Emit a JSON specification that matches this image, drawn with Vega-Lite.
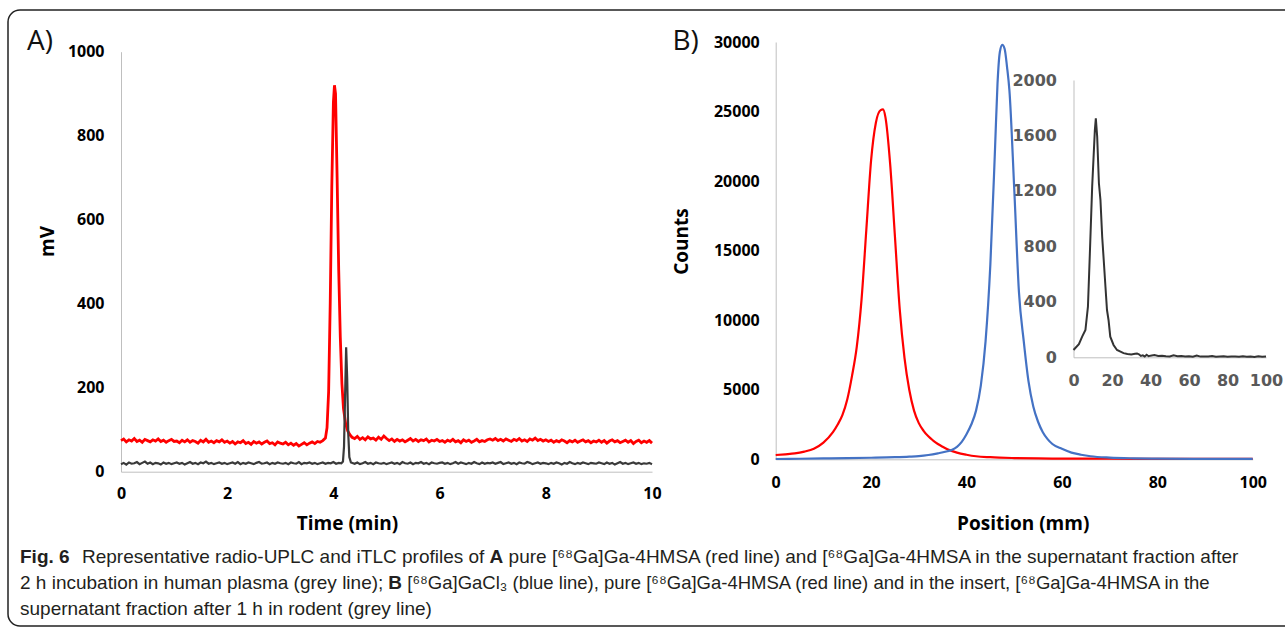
{
  "$schema": "https://vega.github.io/schema/vega-lite/v6.json",
  "width": 1285,
  "height": 628,
  "autosize": {"type": "none"},
  "padding": 0,
  "background": "white",
  "config": {
    "view": {"stroke": null},
    "axis": {
      "ticks": false, "tickSize": 0, "grid": false,
      "domainColor": "#bfbfbf", "domainWidth": 1,
      "labelFont": "Open Sans", "labelFontWeight": "bold", "labelFontSize": 16, "labelColor": "#000000",
      "labelFlush": false, "labelOverlap": false,
      "titleFont": "Open Sans", "titleFontWeight": "bold", "titleFontSize": 19, "titleColor": "#000000"
    }
  },
  "datasets": {
    "Ared": [
      {"x":0,"y":74},{"x":0.05,"y":78},{"x":0.1,"y":71},{"x":0.15,"y":76},{"x":0.2,"y":73},{"x":0.25,"y":79},{"x":0.3,"y":72},{"x":0.35,"y":75},{"x":0.4,"y":70},{"x":0.45,"y":77},{"x":0.5,"y":74},{"x":0.55,"y":71},{"x":0.6,"y":76},{"x":0.65,"y":73},{"x":0.7,"y":78},{"x":0.75,"y":72},{"x":0.8,"y":75},{"x":0.85,"y":70},{"x":0.9,"y":74},{"x":0.95,"y":77},{"x":1,"y":72},
      {"x":1.05,"y":73},{"x":1.1,"y":69},{"x":1.15,"y":75},{"x":1.2,"y":71},{"x":1.25,"y":76},{"x":1.3,"y":70},{"x":1.35,"y":74},{"x":1.4,"y":72},{"x":1.45,"y":68},{"x":1.5,"y":75},{"x":1.55,"y":71},{"x":1.6,"y":77},{"x":1.65,"y":70},{"x":1.7,"y":73},{"x":1.75,"y":69},{"x":1.8,"y":74},{"x":1.85,"y":71},{"x":1.9,"y":76},{"x":1.95,"y":70},{"x":2,"y":73},
      {"x":2.05,"y":68},{"x":2.1,"y":72},{"x":2.15,"y":66},{"x":2.2,"y":71},{"x":2.25,"y":69},{"x":2.3,"y":74},{"x":2.35,"y":67},{"x":2.4,"y":70},{"x":2.45,"y":65},{"x":2.5,"y":72},{"x":2.55,"y":68},{"x":2.6,"y":71},{"x":2.65,"y":66},{"x":2.7,"y":70},{"x":2.75,"y":73},{"x":2.8,"y":67},{"x":2.85,"y":69},{"x":2.9,"y":64},{"x":2.95,"y":71},{"x":3,"y":68},
      {"x":3.05,"y":66},{"x":3.1,"y":70},{"x":3.15,"y":64},{"x":3.2,"y":68},{"x":3.25,"y":63},{"x":3.3,"y":67},{"x":3.35,"y":61},{"x":3.4,"y":65},{"x":3.45,"y":69},{"x":3.5,"y":64},{"x":3.55,"y":68},{"x":3.6,"y":71},{"x":3.65,"y":67},{"x":3.7,"y":72},{"x":3.75,"y":70},{"x":3.8,"y":74},
      {"x":3.85,"y":80},{"x":3.88,"y":105},{"x":3.91,"y":190},{"x":3.94,"y":400},{"x":3.97,"y":680},{"x":4,"y":880},{"x":4.02,"y":920},{"x":4.04,"y":900},{"x":4.07,"y":700},{"x":4.1,"y":480},{"x":4.13,"y":320},{"x":4.16,"y":210},{"x":4.19,"y":150},{"x":4.23,"y":115},{"x":4.27,"y":97},{"x":4.31,"y":88},{"x":4.35,"y":82},
      {"x":4.4,"y":79},{"x":4.45,"y":84},{"x":4.5,"y":77},{"x":4.55,"y":81},{"x":4.6,"y":76},{"x":4.65,"y":83},{"x":4.7,"y":78},{"x":4.75,"y":80},{"x":4.8,"y":75},{"x":4.85,"y":82},{"x":4.9,"y":77},{"x":4.95,"y":85},{"x":5,"y":79},
      {"x":5.05,"y":74},{"x":5.1,"y":78},{"x":5.15,"y":72},{"x":5.2,"y":77},{"x":5.25,"y":73},{"x":5.3,"y":76},{"x":5.35,"y":71},{"x":5.4,"y":75},{"x":5.45,"y":79},{"x":5.5,"y":73},{"x":5.55,"y":77},{"x":5.6,"y":72},{"x":5.65,"y":76},{"x":5.7,"y":74},{"x":5.75,"y":78},{"x":5.8,"y":71},{"x":5.85,"y":75},{"x":5.9,"y":73},{"x":5.95,"y":77},{"x":6,"y":72},
      {"x":6.05,"y":74},{"x":6.1,"y":70},{"x":6.15,"y":75},{"x":6.2,"y":72},{"x":6.25,"y":77},{"x":6.3,"y":71},{"x":6.35,"y":74},{"x":6.4,"y":69},{"x":6.45,"y":76},{"x":6.5,"y":72},{"x":6.55,"y":75},{"x":6.6,"y":70},{"x":6.65,"y":73},{"x":6.7,"y":77},{"x":6.75,"y":71},{"x":6.8,"y":74},{"x":6.85,"y":72},{"x":6.9,"y":76},{"x":6.95,"y":78},{"x":7,"y":75},
      {"x":7.05,"y":79},{"x":7.1,"y":74},{"x":7.15,"y":77},{"x":7.2,"y":73},{"x":7.25,"y":78},{"x":7.3,"y":75},{"x":7.35,"y":72},{"x":7.4,"y":77},{"x":7.45,"y":74},{"x":7.5,"y":79},{"x":7.55,"y":73},{"x":7.6,"y":76},{"x":7.65,"y":72},{"x":7.7,"y":78},{"x":7.75,"y":75},{"x":7.8,"y":80},{"x":7.85,"y":74},{"x":7.9,"y":77},{"x":7.95,"y":73},{"x":8,"y":76},
      {"x":8.05,"y":72},{"x":8.1,"y":75},{"x":8.15,"y":70},{"x":8.2,"y":74},{"x":8.25,"y":71},{"x":8.3,"y":76},{"x":8.35,"y":73},{"x":8.4,"y":69},{"x":8.45,"y":74},{"x":8.5,"y":71},{"x":8.55,"y":75},{"x":8.6,"y":70},{"x":8.65,"y":73},{"x":8.7,"y":76},{"x":8.75,"y":71},{"x":8.8,"y":74},{"x":8.85,"y":69},{"x":8.9,"y":73},{"x":8.95,"y":71},{"x":9,"y":75},
      {"x":9.05,"y":70},{"x":9.1,"y":74},{"x":9.15,"y":68},{"x":9.2,"y":73},{"x":9.25,"y":76},{"x":9.3,"y":71},{"x":9.35,"y":74},{"x":9.4,"y":69},{"x":9.45,"y":72},{"x":9.5,"y":75},{"x":9.55,"y":70},{"x":9.6,"y":74},{"x":9.65,"y":67},{"x":9.7,"y":72},{"x":9.75,"y":75},{"x":9.8,"y":69},{"x":9.85,"y":73},{"x":9.9,"y":70},{"x":9.95,"y":74},{"x":10,"y":68}
    ],
    "Agrey": [
      {"x":0,"y":18},{"x":0.05,"y":21},{"x":0.1,"y":17},{"x":0.15,"y":22},{"x":0.2,"y":19},{"x":0.25,"y":20},{"x":0.3,"y":23},{"x":0.35,"y":18},{"x":0.4,"y":21},{"x":0.45,"y":24},{"x":0.5,"y":19},{"x":0.55,"y":22},{"x":0.6,"y":18},{"x":0.65,"y":21},{"x":0.7,"y":20},{"x":0.75,"y":17},{"x":0.8,"y":22},{"x":0.85,"y":19},{"x":0.9,"y":21},{"x":0.95,"y":18},{"x":1,"y":20},
      {"x":1.05,"y":22},{"x":1.1,"y":19},{"x":1.15,"y":21},{"x":1.2,"y":17},{"x":1.25,"y":20},{"x":1.3,"y":23},{"x":1.35,"y":19},{"x":1.4,"y":21},{"x":1.45,"y":18},{"x":1.5,"y":22},{"x":1.55,"y":20},{"x":1.6,"y":24},{"x":1.65,"y":19},{"x":1.7,"y":21},{"x":1.75,"y":18},{"x":1.8,"y":20},{"x":1.85,"y":22},{"x":1.9,"y":19},{"x":1.95,"y":21},{"x":2,"y":18},
      {"x":2.05,"y":20},{"x":2.1,"y":22},{"x":2.15,"y":19},{"x":2.2,"y":23},{"x":2.25,"y":18},{"x":2.3,"y":21},{"x":2.35,"y":19},{"x":2.4,"y":22},{"x":2.45,"y":20},{"x":2.5,"y":18},{"x":2.55,"y":21},{"x":2.6,"y":23},{"x":2.65,"y":19},{"x":2.7,"y":20},{"x":2.75,"y":22},{"x":2.8,"y":18},{"x":2.85,"y":21},{"x":2.9,"y":19},{"x":2.95,"y":22},{"x":3,"y":20},
      {"x":3.05,"y":19},{"x":3.1,"y":21},{"x":3.15,"y":18},{"x":3.2,"y":22},{"x":3.25,"y":20},{"x":3.3,"y":19},{"x":3.35,"y":23},{"x":3.4,"y":18},{"x":3.45,"y":21},{"x":3.5,"y":20},{"x":3.55,"y":22},{"x":3.6,"y":19},{"x":3.65,"y":21},{"x":3.7,"y":18},{"x":3.75,"y":20},{"x":3.8,"y":22},{"x":3.85,"y":19},{"x":3.9,"y":21},{"x":3.95,"y":20},{"x":4,"y":23},{"x":4.05,"y":19},{"x":4.1,"y":21},{"x":4.15,"y":20},
      {"x":4.18,"y":24},{"x":4.2,"y":60},{"x":4.22,"y":180},{"x":4.24,"y":296},{"x":4.26,"y":220},{"x":4.28,"y":90},{"x":4.3,"y":35},{"x":4.33,"y":22},
      {"x":4.4,"y":19},{"x":4.45,"y":22},{"x":4.5,"y":18},{"x":4.55,"y":20},{"x":4.6,"y":23},{"x":4.65,"y":19},{"x":4.7,"y":21},{"x":4.75,"y":18},{"x":4.8,"y":22},{"x":4.85,"y":20},{"x":4.9,"y":19},{"x":4.95,"y":21},{"x":5,"y":18},
      {"x":5.05,"y":20},{"x":5.1,"y":22},{"x":5.15,"y":19},{"x":5.2,"y":21},{"x":5.25,"y":18},{"x":5.3,"y":23},{"x":5.35,"y":20},{"x":5.4,"y":19},{"x":5.45,"y":22},{"x":5.5,"y":18},{"x":5.55,"y":21},{"x":5.6,"y":20},{"x":5.65,"y":23},{"x":5.7,"y":19},{"x":5.75,"y":21},{"x":5.8,"y":18},{"x":5.85,"y":22},{"x":5.9,"y":20},{"x":5.95,"y":19},{"x":6,"y":21},
      {"x":6.05,"y":22},{"x":6.1,"y":19},{"x":6.15,"y":21},{"x":6.2,"y":18},{"x":6.25,"y":20},{"x":6.3,"y":23},{"x":6.35,"y":19},{"x":6.4,"y":22},{"x":6.45,"y":20},{"x":6.5,"y":18},{"x":6.55,"y":21},{"x":6.6,"y":19},{"x":6.65,"y":23},{"x":6.7,"y":20},{"x":6.75,"y":18},{"x":6.8,"y":22},{"x":6.85,"y":19},{"x":6.9,"y":21},{"x":6.95,"y":20},{"x":7,"y":22},
      {"x":7.05,"y":19},{"x":7.1,"y":21},{"x":7.15,"y":23},{"x":7.2,"y":18},{"x":7.25,"y":20},{"x":7.3,"y":22},{"x":7.35,"y":19},{"x":7.4,"y":21},{"x":7.45,"y":18},{"x":7.5,"y":22},{"x":7.55,"y":20},{"x":7.6,"y":19},{"x":7.65,"y":23},{"x":7.7,"y":21},{"x":7.75,"y":18},{"x":7.8,"y":20},{"x":7.85,"y":22},{"x":7.9,"y":19},{"x":7.95,"y":21},{"x":8,"y":20},
      {"x":8.05,"y":18},{"x":8.1,"y":21},{"x":8.15,"y":19},{"x":8.2,"y":22},{"x":8.25,"y":20},{"x":8.3,"y":17},{"x":8.35,"y":21},{"x":8.4,"y":19},{"x":8.45,"y":23},{"x":8.5,"y":20},{"x":8.55,"y":18},{"x":8.6,"y":21},{"x":8.65,"y":19},{"x":8.7,"y":22},{"x":8.75,"y":20},{"x":8.8,"y":18},{"x":8.85,"y":21},{"x":8.9,"y":20},{"x":8.95,"y":19},{"x":9,"y":22},
      {"x":9.05,"y":20},{"x":9.1,"y":18},{"x":9.15,"y":22},{"x":9.2,"y":19},{"x":9.25,"y":21},{"x":9.3,"y":17},{"x":9.35,"y":20},{"x":9.4,"y":23},{"x":9.45,"y":19},{"x":9.5,"y":21},{"x":9.55,"y":18},{"x":9.6,"y":20},{"x":9.65,"y":22},{"x":9.7,"y":19},{"x":9.75,"y":21},{"x":9.8,"y":18},{"x":9.85,"y":20},{"x":9.9,"y":19},{"x":9.95,"y":21},{"x":10,"y":18}
    ],
    "Bred": [
      {"x":0,"y":310},{"x":2,"y":360},{"x":4,"y":420},{"x":6,"y":550},{"x":8,"y":760},{"x":10,"y":1200},{"x":12,"y":1950},{"x":13,"y":2500},{"x":14,"y":3200},{"x":15,"y":4300},{"x":16,"y":6000},{"x":17,"y":8100},{"x":18,"y":11500},{"x":19,"y":16500},{"x":20,"y":21500},{"x":21,"y":24200},{"x":22,"y":25100},{"x":22.5,"y":25150},{"x":23,"y":24600},{"x":24,"y":21200},{"x":25,"y":16000},{"x":26,"y":10800},{"x":27,"y":7300},{"x":28,"y":5000},{"x":29,"y":3500},{"x":30,"y":2600},{"x":31,"y":2050},{"x":32,"y":1650},{"x":33,"y":1350},{"x":34,"y":1100},{"x":35,"y":900},{"x":36,"y":720},{"x":38,"y":480},{"x":40,"y":330},{"x":42,"y":220},{"x":45,"y":150},{"x":50,"y":90},{"x":55,"y":60},{"x":60,"y":50},{"x":70,"y":40},{"x":80,"y":35},{"x":90,"y":30},{"x":100,"y":30}
    ],
    "Bblue": [
      {"x":0,"y":20},{"x":5,"y":40},{"x":10,"y":60},{"x":15,"y":80},{"x":20,"y":110},{"x":25,"y":150},{"x":28,"y":190},{"x":30,"y":230},{"x":32,"y":310},{"x":34,"y":430},{"x":36,"y":580},{"x":37,"y":690},{"x":38,"y":900},{"x":39,"y":1250},{"x":40,"y":1800},{"x":41,"y":2500},{"x":42,"y":3500},{"x":43,"y":5300},{"x":44,"y":8500},{"x":45,"y":14000},{"x":46,"y":22500},{"x":46.5,"y":27000},{"x":47,"y":29300},{"x":47.5,"y":29800},{"x":48,"y":29500},{"x":48.5,"y":28200},{"x":49,"y":26500},{"x":50,"y":19500},{"x":51,"y":12000},{"x":52,"y":8500},{"x":53,"y":5600},{"x":54,"y":3800},{"x":55,"y":2700},{"x":56,"y":1950},{"x":57,"y":1450},{"x":58,"y":1100},{"x":60,"y":750},{"x":62,"y":480},{"x":64,"y":330},{"x":66,"y":220},{"x":70,"y":120},{"x":75,"y":70},{"x":80,"y":50},{"x":90,"y":35},{"x":100,"y":30}
    ],
    "inset": [
      {"x":0,"y":53},{"x":2.8,"y":95},{"x":4.5,"y":149},{"x":6.2,"y":197},{"x":7.5,"y":365},{"x":8.5,"y":750},{"x":9.7,"y":1231},{"x":11.1,"y":1640},{"x":11.6,"y":1724},{"x":12.3,"y":1592},{"x":13.2,"y":1255},{"x":14,"y":1135},{"x":14.9,"y":870},{"x":15.7,"y":702},{"x":16.6,"y":509},{"x":17.4,"y":341},{"x":18.2,"y":269},{"x":19.1,"y":149},{"x":20.8,"y":89},{"x":22.6,"y":53},{"x":26,"y":30},{"x":28,"y":24},{"x":30,"y":20},{"x":32,"y":26},{"x":33,"y":28},{"x":34,"y":22},{"x":35,"y":10},{"x":36,"y":14},{"x":37,"y":6},{"x":38,"y":18},{"x":39,"y":8},{"x":40,"y":12},{"x":42,"y":16},{"x":44,"y":10},{"x":46,"y":12},{"x":48,"y":8},{"x":50,"y":6},{"x":52,"y":14},{"x":54,"y":8},{"x":56,"y":10},{"x":58,"y":6},{"x":60,"y":8},{"x":62,"y":4},{"x":64,"y":12},{"x":66,"y":5},{"x":68,"y":6},{"x":70,"y":5},{"x":72,"y":10},{"x":74,"y":4},{"x":76,"y":6},{"x":78,"y":8},{"x":80,"y":4},{"x":82,"y":6},{"x":84,"y":5},{"x":86,"y":4},{"x":88,"y":7},{"x":90,"y":4},{"x":92,"y":6},{"x":94,"y":3},{"x":96,"y":8},{"x":98,"y":4},{"x":100,"y":5}
    ]
  },
  "layer": [
    {
      "data": {"values": [{"a": 0, "b": 1}]},
      "mark": {"type": "rect", "fill": "white", "fillOpacity": 0, "stroke": "#222222", "strokeWidth": 1.5, "cornerRadius": 12},
      "encoding": {
        "x": {"field": "a", "type": "quantitative", "scale": {"domain": [0, 1], "range": [8, 1400]}, "axis": null},
        "x2": {"field": "b"},
        "y": {"field": "a", "type": "quantitative", "scale": {"domain": [0, 1], "range": [10, 626]}, "axis": null},
        "y2": {"field": "b"}
      }
    },
    {
      "encoding": {
        "x": {"field": "x", "type": "quantitative",
          "scale": {"domain": [0, 10], "range": [121, 652], "nice": false, "zero": false},
          "axis": {"orient": "bottom", "offset": -156.3, "values": [0, 2, 4, 6, 8, 10], "labelPadding": 14,
            "title": "Time (min)", "titleX": 347, "titleY": 52, "titleBaseline": "middle", "titleAnchor": null}},
        "y": {"field": "y", "type": "quantitative",
          "scale": {"domain": [0, 1000], "range": [471.7, 51.7], "nice": false},
          "axis": {"orient": "left", "offset": -121, "values": [0, 200, 400, 600, 800, 1000], "format": "d", "labelPadding": 17,
            "title": "mV", "titleX": -74, "titleY": 241, "titleAngle": -90, "titleBaseline": "middle", "titleAlign": "center"}}
      },
      "layer": [
        {"data": {"name": "Ared"}, "mark": {"type": "line", "color": "#ff0000", "strokeWidth": 2.8}},
        {"data": {"name": "Agrey"}, "mark": {"type": "line", "color": "#3a3a3a", "strokeWidth": 2.2}},
        {"data": {"values": [{"x": 0, "y": 1000, "t": "A)"}]},
          "mark": {"type": "text", "font": "Open Sans", "fontSize": 28, "color": "#111111", "dx": -81, "dy": -10, "align": "center", "baseline": "middle"},
          "encoding": {"text": {"field": "t"}}}
      ]
    },
    {
      "encoding": {
        "x": {"field": "x", "type": "quantitative",
          "scale": {"domain": [0, 100], "range": [775.7, 1252.7], "nice": false, "zero": false},
          "axis": {"orient": "bottom", "offset": -168.7, "values": [0, 20, 40, 60, 80, 100], "labelPadding": 15,
            "title": "Position (mm)", "titleX": 1022.7, "titleY": 64, "titleBaseline": "middle", "titleAnchor": null}},
        "y": {"field": "y", "type": "quantitative",
          "scale": {"domain": [0, 30000], "range": [459.3, 42], "nice": false},
          "axis": {"orient": "left", "offset": -775.7, "values": [0, 5000, 10000, 15000, 20000, 25000, 30000], "format": "d", "labelPadding": 16.5,
            "title": "Counts", "titleX": -94.7, "titleY": 241, "titleAngle": -90, "titleBaseline": "middle", "titleAlign": "center"}}
      },
      "layer": [
        {"data": {"name": "Bred"}, "mark": {"type": "line", "color": "#ff0000", "strokeWidth": 2.2, "interpolate": "monotone"}},
        {"data": {"name": "Bblue"}, "mark": {"type": "line", "color": "#4472c4", "strokeWidth": 2.2, "interpolate": "monotone"}},
        {"data": {"values": [{"x": 0, "y": 30000, "t": "B)"}]},
          "mark": {"type": "text", "font": "Open Sans", "fontSize": 28, "color": "#111111", "dx": -90, "dy": 0, "align": "center", "baseline": "middle"},
          "encoding": {"text": {"field": "t"}}}
      ]
    },
    {
      "data": {"name": "inset"},
      "mark": {"type": "line", "color": "#333333", "strokeWidth": 2},
      "encoding": {
        "x": {"field": "x", "type": "quantitative",
          "scale": {"domain": [0, 100], "range": [1073.5, 1266], "nice": false, "zero": false},
          "axis": {"orient": "bottom", "offset": -270.7, "values": [0, 20, 40, 60, 80, 100], "format": "d", "labelPadding": 15, "title": null,
            "labelFont": "DejaVu Sans", "labelColor": "#595959", "labelFontSize": 16}},
        "y": {"field": "y", "type": "quantitative",
          "scale": {"domain": [0, 2000], "range": [357.3, 80], "nice": false},
          "axis": {"orient": "left", "offset": -1073.5, "values": [0, 400, 800, 1200, 1600, 2000], "format": "d", "labelPadding": 17, "title": null,
            "labelFont": "DejaVu Sans", "labelColor": "#595959", "labelFontSize": 16}}
      }
    },
    {
      "encoding": {
        "x": {"field": "c", "type": "quantitative", "scale": {"domain": [0, 1], "range": [20, 1280]}, "axis": null},
        "y": {"field": "line", "type": "quantitative", "scale": {"domain": [1, 3], "range": [557, 609]}, "axis": null},
        "text": {"field": "text"}
      },
      "layer": [
        {"data": {"values": [{"c": 0, "line": 1, "text": "Fig. 6"}]},
          "mark": {"type": "text", "font": "Liberation Sans", "fontWeight": "bold", "fontSize": 19, "color": "#231f20", "align": "left", "baseline": "middle", "dx": 0}},
        {"data": {"values": [{"c": 0, "line": 1, "text": "Representative radio-UPLC and iTLC profiles of"}]},
          "mark": {"type": "text", "font": "Liberation Sans", "fontSize": 19, "color": "#231f20", "align": "left", "baseline": "middle", "dx": 62}},
        {"data": {"values": [{"c": 0, "line": 1, "text": "A"}]},
          "mark": {"type": "text", "font": "Liberation Sans", "fontWeight": "bold", "fontSize": 19, "color": "#231f20", "align": "left", "baseline": "middle", "dx": 469.6}},
        {"data": {"values": [{"c": 0, "line": 1, "text": "pure [⁶⁸Ga]Ga-4HMSA (red line) and [⁶⁸Ga]Ga-4HMSA in the supernatant fraction after"}]},
          "mark": {"type": "text", "font": "Liberation Sans", "fontSize": 19, "color": "#231f20", "align": "left", "baseline": "middle", "dx": 488.6}},
        {"data": {"values": [{"c": 0, "line": 2, "text": "2 h incubation in human plasma (grey line);"}, {"c": 0, "line": 3, "text": "supernatant fraction after 1 h in rodent (grey line)"}]},
          "mark": {"type": "text", "font": "Liberation Sans", "fontSize": 19, "color": "#231f20", "align": "left", "baseline": "middle", "dx": 0}},
        {"data": {"values": [{"c": 0, "line": 2, "text": "B"}]},
          "mark": {"type": "text", "font": "Liberation Sans", "fontWeight": "bold", "fontSize": 19, "color": "#231f20", "align": "left", "baseline": "middle", "dx": 368.3}},
        {"data": {"values": [{"c": 0, "line": 2, "text": "[⁶⁸Ga]GaCl₃ (blue line), pure [⁶⁸Ga]Ga-4HMSA (red line) and in the insert, [⁶⁸Ga]Ga-4HMSA in the"}]},
          "mark": {"type": "text", "font": "Liberation Sans", "fontSize": 18.5, "color": "#231f20", "align": "left", "baseline": "middle", "dx": 387.3}}
      ]
    }
  ],
  "resolve": {"scale": {"x": "independent", "y": "independent"}, "axis": {"x": "independent", "y": "independent"}}
}
